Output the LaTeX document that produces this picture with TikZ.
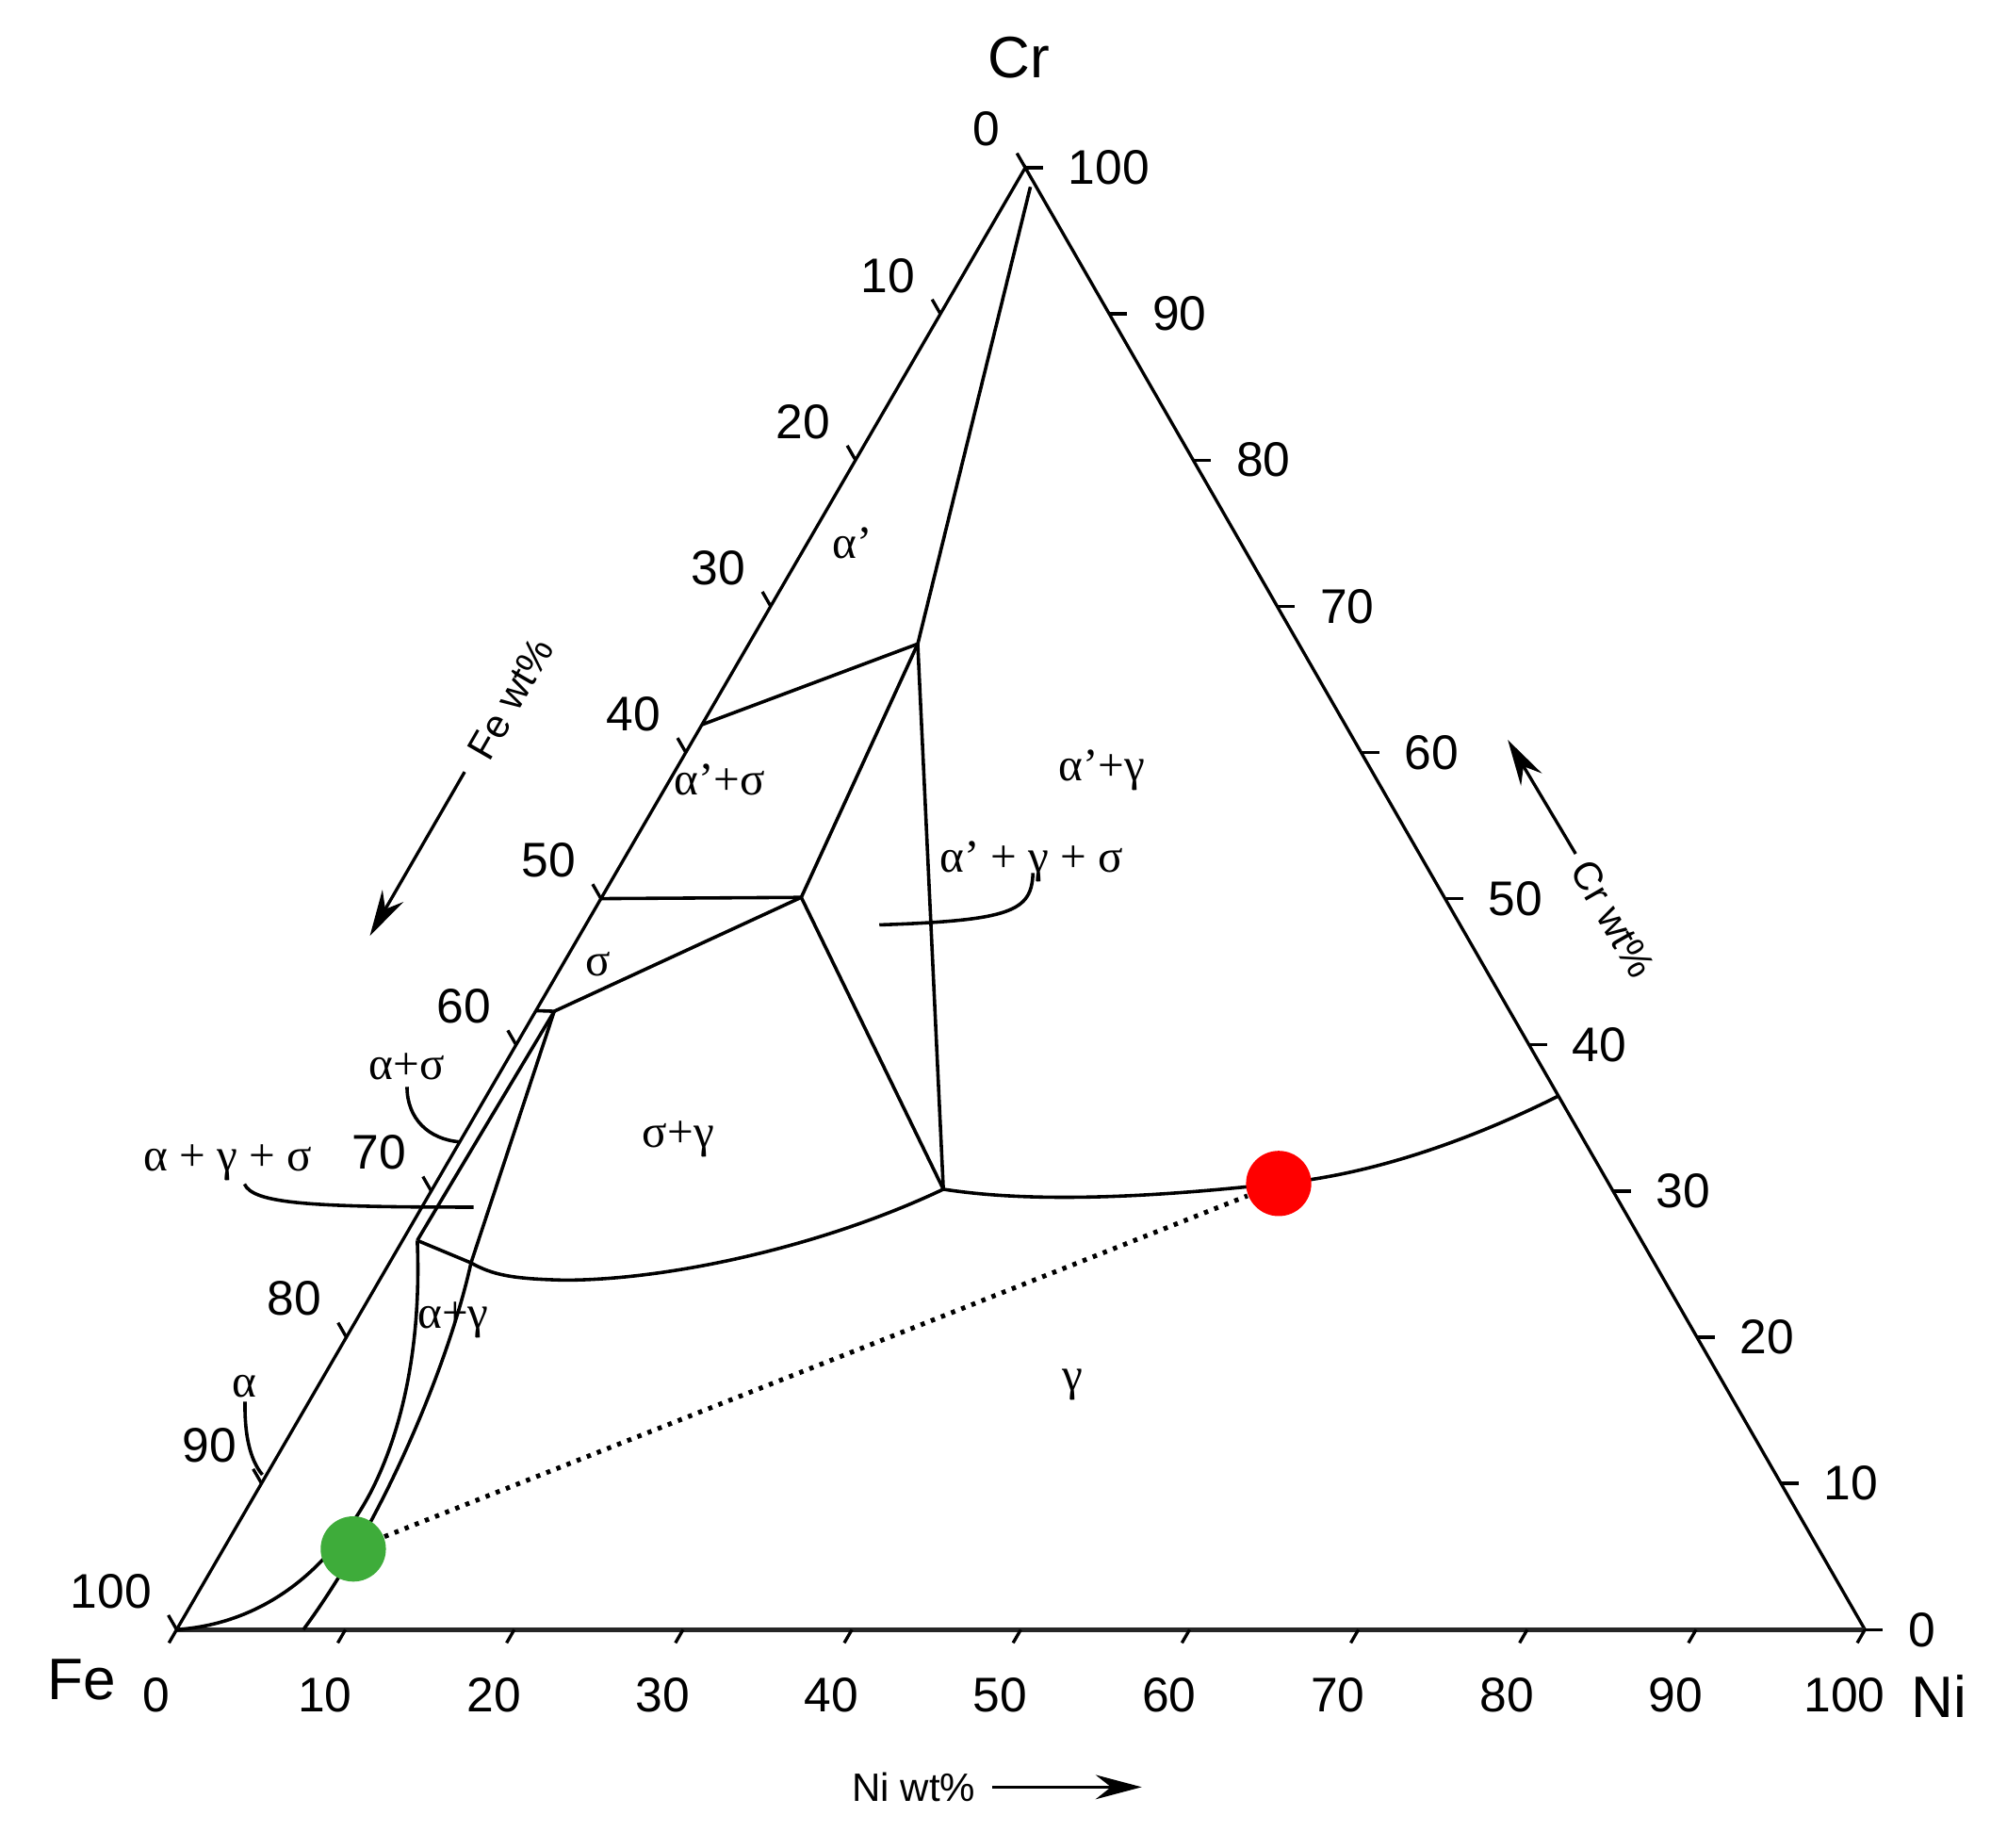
\documentclass[tikz,border=0pt]{standalone}
\usepackage{fontspec}
\setmainfont{Liberation Sans}
\newfontfamily\phfont{Liberation Serif}
\usetikzlibrary{calc,arrows.meta}
\definecolor{dotred}{RGB}{255,0,0}
\definecolor{dotgreen}{RGB}{62,172,58}
\begin{document}
\begin{tikzpicture}[x=0.1mm,y=-0.1mm,
  ax/.style={line width=0.7pt},
  base/.style={line width=1pt,black!85},
  ph/.style={line width=0.75pt,line join=round},
  tk/.style={line width=0.7pt},
  num/.style={font=\fontsize{10.8}{12}\selectfont,inner sep=0pt},
  elem/.style={font=\fontsize{13}{15}\selectfont,inner sep=0pt},
  phl/.style={font=\phfont\fontsize{10.3}{12}\selectfont,inner sep=0pt},
  ttl/.style={font=\fontsize{8.8}{10}\selectfont,inner sep=0pt},
  arr/.style={line width=0.7pt,-{Stealth[length=3.6mm,width=1.9mm,inset=1.2mm]}},
  callout/.style={line width=0.75pt},
  dotline/.style={line width=1.05pt,dash pattern=on 0.33mm off 0.52mm},
  phdot/.style={circle,inner sep=0pt,minimum size=5.1mm},
]
\useasboundingbox (0,0) rectangle (1568,1443);
\fill[white] (0,0) rectangle (1568,1443);

% corners
\coordinate (Fe) at (138,1273);
\coordinate (Ni) at (1457,1273);
\coordinate (Cr) at (801,131);

% axes
\draw[ax] (Fe) -- (Cr) -- (Ni);
\draw[base] (Fe) -- (Ni);

% ticks and numbers
\foreach \k [evaluate=\k as \v using int(\k*10)] in {0,...,10}{
  \draw[tk] ($(Fe)!\k/10!(Ni)$) -- ++(-6,10.4);
  \node[num] at ($(Fe)!\k/10!(Ni)+(-16,51)$) {\v};
  \draw[tk] ($(Cr)!\k/10!(Fe)$) -- ++(-6.5,-11.3);
  \node[num,anchor=east] at ($(Cr)!\k/10!(Fe)+(-19,-30)$) {\v};
  \draw[tk] ($(Ni)!\k/10!(Cr)$) -- ++(14,0);
  \node[num,anchor=west] at ($(Ni)!\k/10!(Cr)+(33,0)$) {\v};
}

% element labels
\node[elem] (crL) at (796,45) {Cr};
\node[elem] (feL) at (64,1312) {Fe};
\node[elem] (niL) at (1515,1325) {Ni};

% axis titles and arrows
\node[ttl,rotate=60] (feT) at (399,546) {Fe wt\%};
\node[ttl,rotate=-60] (crT) at (1260,718) {Cr wt\%};
\node[ttl] (niT) at (714,1396) {Ni wt\%};
\coordinate (feA1) at (363,603);
\coordinate (feA2) at (289,731);
\coordinate (crA1) at (1231,667);
\coordinate (crA2) at (1178,578);
\coordinate (niA1) at (775,1396);
\coordinate (niA2) at (892,1396);
\draw[arr] (feA1) -- (feA2);
\draw[arr] (crA1) -- (crA2);
\draw[arr] (niA1) -- (niA2);

% phase boundary points
\coordinate (P1) at (717,503);
\coordinate (P2) at (626,701);
\coordinate (P3) at (433,790);
\coordinate (P4) at (737,929);
\coordinate (A) at (326,969);
\coordinate (G) at (368,986.5);
\coordinate (Rt) at ($(Ni)!0.365!(Cr)$);
\coordinate (L38) at ($(Cr)!0.381!(Fe)$);
\coordinate (L50) at ($(Cr)!0.5!(Fe)$);
\coordinate (L58) at ($(Cr)!0.5766!(Fe)$);
\coordinate (Ctop) at (805,146);
\coordinate (Rdot) at (999,924.5);
\coordinate (Gdot) at (276,1210);

% phase boundaries
\draw[ph] (Ctop) -- (P1);
\draw[ph] (L38) -- (P1);
\draw[ph] (P1) -- (P4);
\draw[ph] (P1) -- (P2);
\draw[ph] (L50) -- (P2);
\draw[ph] (P2) -- (P3);
\draw[ph] (P2) -- (P4);
\draw[ph] (L58) -- (P3);
\draw[ph] (P3) -- (A);
\draw[ph] (P3) -- (G) .. controls (352,1060) and (302,1185) .. (237,1273);
\draw[ph] (A) -- (G) .. controls (385,996) and (400,999) .. (441,1000)
          .. controls (520,1000) and (640,975) .. (P4);
\draw[ph] (P4) .. controls (820,942) and (930,932) .. (Rdot)
          .. controls (1080,917) and (1160,885) .. (Rt);
\draw[ph] (A) .. controls (329,1040) and (318,1110) .. (290,1165)
          .. controls (260,1222) and (210,1268) .. (Fe);

% phase labels
\node[phl] (l1) at (666,424) {α’};
\node[phl] (l2) at (562,609) {α’+σ};
\node[phl] (l3) at (861,602) {α’+γ};
\node[phl] (l4) at (806,673) {α’ + γ + σ};
\node[phl] (l5) at (467,753) {σ};
\node[phl] (l6) at (530,890) {σ+γ};
\node[phl] (l7) at (318,833) {α+σ};
\node[phl] (l8) at (178,908) {α + γ + σ};
\node[phl] (l9) at (354,1031) {α+γ};
\node[phl] (l10) at (191,1083) {α};
\node[phl] (l11) at (838,1082) {γ};

% callouts
\coordinate (c4a) at (807,682);  \coordinate (c4b) at (687,722.5);
\coordinate (c7a) at (318,849);  \coordinate (c7b) at (359,892);
\coordinate (c8a) at (191,925);  \coordinate (c8b) at (370,943);
\coordinate (c10a) at (191.4,1095); \coordinate (c10b) at (205,1152);
\draw[callout] (c4a) .. controls (806,712) and (790,719) .. (c4b);
\draw[callout] (c7a) .. controls (318,874) and (335,890) .. (c7b);
\draw[callout] (c8a) .. controls (198,940) and (240,943) .. (c8b);
\draw[callout] (c10a) .. controls (191,1120) and (195,1140) .. (c10b);

% composition points
\node[phdot,fill=dotgreen] (green) at (Gdot) {};
\node[phdot,fill=dotred] (red) at (Rdot) {};
\draw[dotline] (green) -- (red);
\end{tikzpicture}
\end{document}
